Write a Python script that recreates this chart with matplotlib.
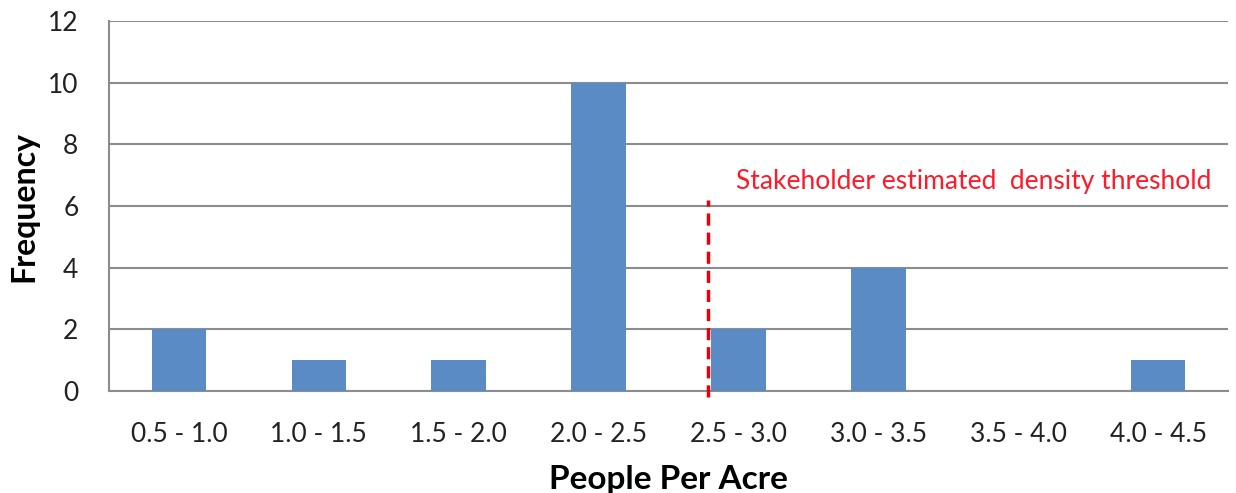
import matplotlib.pyplot as plt
import numpy as np

# histogram bins and counts
bins = ['0.5 - 1.0', '1.0 - 1.5', '1.5 - 2.0', '2.0 - 2.5',
        '2.5 - 3.0', '3.0 - 3.5', '3.5 - 4.0', '4.0 - 4.5']
counts = [2, 1, 1, 10, 2, 4, 0, 1]

# threshold marker (category units) and its height
threshold_x = 3.78
threshold_top = 6.2
threshold_label = 'Stakeholder estimated  density threshold'

plt.rcParams['font.family'] = ['Lato', 'DejaVu Sans']

fig = plt.figure(figsize=(12.36, 4.93), dpi=100)
ax = fig.add_axes([0.0882, 0.2069, 0.9053, 0.7505])

x = np.arange(len(bins))
ax.bar(x, counts, width=0.39, color='#5b8bc4', zorder=3)

ax.set_xlim(-0.5, len(bins) - 0.5)
ax.set_ylim(0, 12)
ax.set_yticks(np.arange(0, 13, 2))
ax.set_xticks(x)
ax.set_xticklabels(bins)

ax.grid(axis='y', color='#8c8c8c', linewidth=1.5, zorder=0)
for side in ['top', 'right']:
    ax.spines[side].set_visible(False)
ax.spines['left'].set_color('#8c8c8c')
ax.spines['bottom'].set_color('#8c8c8c')
ax.spines['left'].set_linewidth(1.5)
ax.spines['bottom'].set_linewidth(1.5)

ax.tick_params(axis='both', length=0, labelsize=19, colors='#222222')
ax.tick_params(axis='x', pad=22)
ax.tick_params(axis='y', pad=22)

ax.set_xlabel('People Per Acre', fontsize=24, fontweight='bold')
ax.xaxis.set_label_coords(0.5, -0.2)
ax.set_ylabel('Frequency', fontsize=23, fontweight='bold')
ax.yaxis.set_label_coords(-0.063, 0.5)

# dashed threshold line with its label
ax.plot([threshold_x, threshold_x], [-0.2, threshold_top], color='#e8000b',
        linestyle=(0, (3.5, 2)), linewidth=2.5, clip_on=False, zorder=4)
ax.text(threshold_x + 0.2, threshold_top + 0.6, threshold_label,
        color='#ff1a2a', fontsize=19, va='center', ha='left')

plt.savefig('out.png')
